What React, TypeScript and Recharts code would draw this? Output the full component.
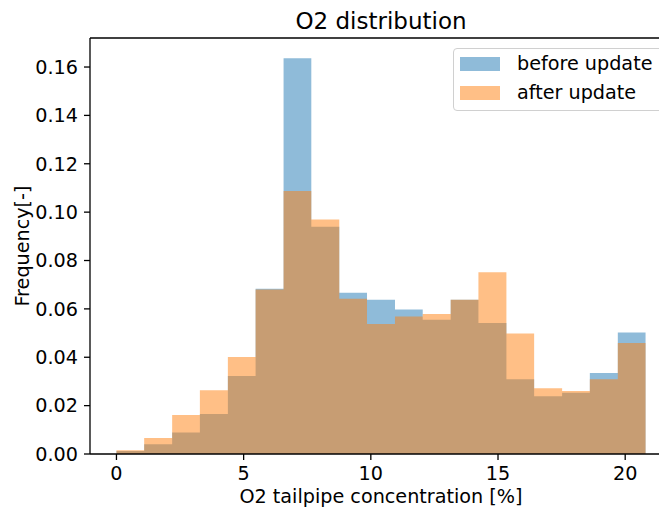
import { AreaChart, Area, XAxis, YAxis, ReferenceLine } from "recharts";

// histogram bin edges (20 edges -> 19 bins)
const binEdges = [
  0, 1.09, 2.19, 3.28, 4.38, 5.47, 6.57, 7.66, 8.76, 9.85, 10.95, 12.04,
  13.14, 14.23, 15.33, 16.42, 17.52, 18.61, 19.71, 20.8,
];

const beforeUpdate = [
  0.0012, 0.004, 0.0089, 0.0165, 0.0322, 0.0683, 0.1636, 0.094, 0.0667,
  0.0638, 0.0597, 0.0555, 0.0638, 0.0542, 0.0309, 0.0239, 0.0253, 0.0335,
  0.0502,
];

const afterUpdate = [
  0.0016, 0.0066, 0.0161, 0.0264, 0.0401, 0.068, 0.1087, 0.097, 0.0642,
  0.0537, 0.0568, 0.0579, 0.0638, 0.0751, 0.0498, 0.0272, 0.026, 0.0309,
  0.0459,
];

const xTicks = [0, 5, 10, 15, 20];
const yTicks = [0, 0.02, 0.04, 0.06, 0.08, 0.1, 0.12, 0.14, 0.16];

const X_DOMAIN: [number, number] = [-1.04, 21.84];
const Y_DOMAIN: [number, number] = [0, 0.172];

const BLUE = "#1f77b4";
const ORANGE = "#ff7f0e";
const FONT = "'DejaVu Sans', sans-serif";
const FS = 19.2;

// step rows: each edge carries the value of the bin that starts there
const last = beforeUpdate.length - 1;
const data = binEdges.map((x, i) => ({
  x,
  before: beforeUpdate[Math.min(i, last)],
  after: afterUpdate[Math.min(i, last)],
}));

const legendItems = [
  { name: "before update", color: BLUE },
  { name: "after update", color: ORANGE },
];

export default function App() {
  const tickStyle = { fontSize: FS, fill: "#000", fontFamily: FONT };

  return (
    <div
      style={{
        position: "absolute",
        left: 0,
        top: 0,
        width: 659,
        height: 510,
        overflow: "hidden",
        background: "#fff",
        fontFamily: FONT,
      }}
    >
      <div
        style={{
          position: "absolute",
          left: 0,
          width: 762,
          top: 10,
          lineHeight: "22px",
          fontSize: 23,
          textAlign: "center",
          color: "#000",
        }}
      >
        O2 distribution
      </div>

      <AreaChart
        width={680}
        height={510}
        data={data}
        margin={{ top: 38, right: 8, bottom: 0, left: 0 }}
      >
        <XAxis
          dataKey="x"
          type="number"
          domain={X_DOMAIN}
          ticks={xTicks}
          height={56}
          tickSize={6}
          tickMargin={6}
          tick={tickStyle}
          stroke="#000"
          axisLine={{ stroke: "#000", strokeWidth: 1.3 }}
          tickLine={{ stroke: "#000", strokeWidth: 1.3 }}
          label={{
            value: "O2 tailpipe concentration [%]",
            position: "insideBottom",
            offset: 7.5,
            style: { fontSize: FS, fill: "#000", fontFamily: FONT },
          }}
        />
        <YAxis
          type="number"
          domain={Y_DOMAIN}
          ticks={yTicks}
          width={90}
          tickSize={6}
          tickMargin={6}
          tick={tickStyle}
          tickFormatter={(v: number) => v.toFixed(2)}
          stroke="#000"
          axisLine={{ stroke: "#000", strokeWidth: 1.3 }}
          tickLine={{ stroke: "#000", strokeWidth: 1.3 }}
          label={({ viewBox }: any) => {
            const cx = viewBox.x + 28.5;
            const cy = viewBox.y + viewBox.height / 2;
            return (
              <text
                x={cx}
                y={cy}
                transform={`rotate(-90 ${cx} ${cy})`}
                textAnchor="middle"
                fontSize={FS}
                fill="#000"
                fontFamily={FONT}
              >
                Frequency[-]
              </text>
            );
          }}
        />
        <Area
          type="stepAfter"
          dataKey="before"
          fill={BLUE}
          fillOpacity={0.5}
          stroke="none"
          dot={false}
          activeDot={false}
          isAnimationActive={false}
        />
        <Area
          type="stepAfter"
          dataKey="after"
          fill={ORANGE}
          fillOpacity={0.5}
          stroke="none"
          dot={false}
          activeDot={false}
          isAnimationActive={false}
        />
        <ReferenceLine y={Y_DOMAIN[1]} stroke="#000" strokeWidth={1.3} />
        <ReferenceLine x={X_DOMAIN[1]} stroke="#000" strokeWidth={1.3} />
      </AreaChart>

      <div
        style={{
          position: "absolute",
          left: 453,
          top: 48,
          width: 210,
          height: 63,
          boxSizing: "border-box",
          border: "1px solid #d0d0d0",
          borderRadius: 4,
          background: "rgba(255,255,255,0.8)",
        }}
      >
        {legendItems.map((item, i) => (
          <div
            key={item.name}
            style={{
              position: "absolute",
              left: 6,
              top: 8 + i * 29,
              height: 14,
              display: "flex",
              alignItems: "center",
              whiteSpace: "nowrap",
            }}
          >
            <div
              style={{
                width: 40,
                height: 14,
                background: item.color,
                opacity: 0.5,
              }}
            />
            <span
              style={{
                marginLeft: 17,
                fontSize: FS,
                lineHeight: "14px",
                color: "#000",
              }}
            >
              {item.name}
            </span>
          </div>
        ))}
      </div>
    </div>
  );
}
